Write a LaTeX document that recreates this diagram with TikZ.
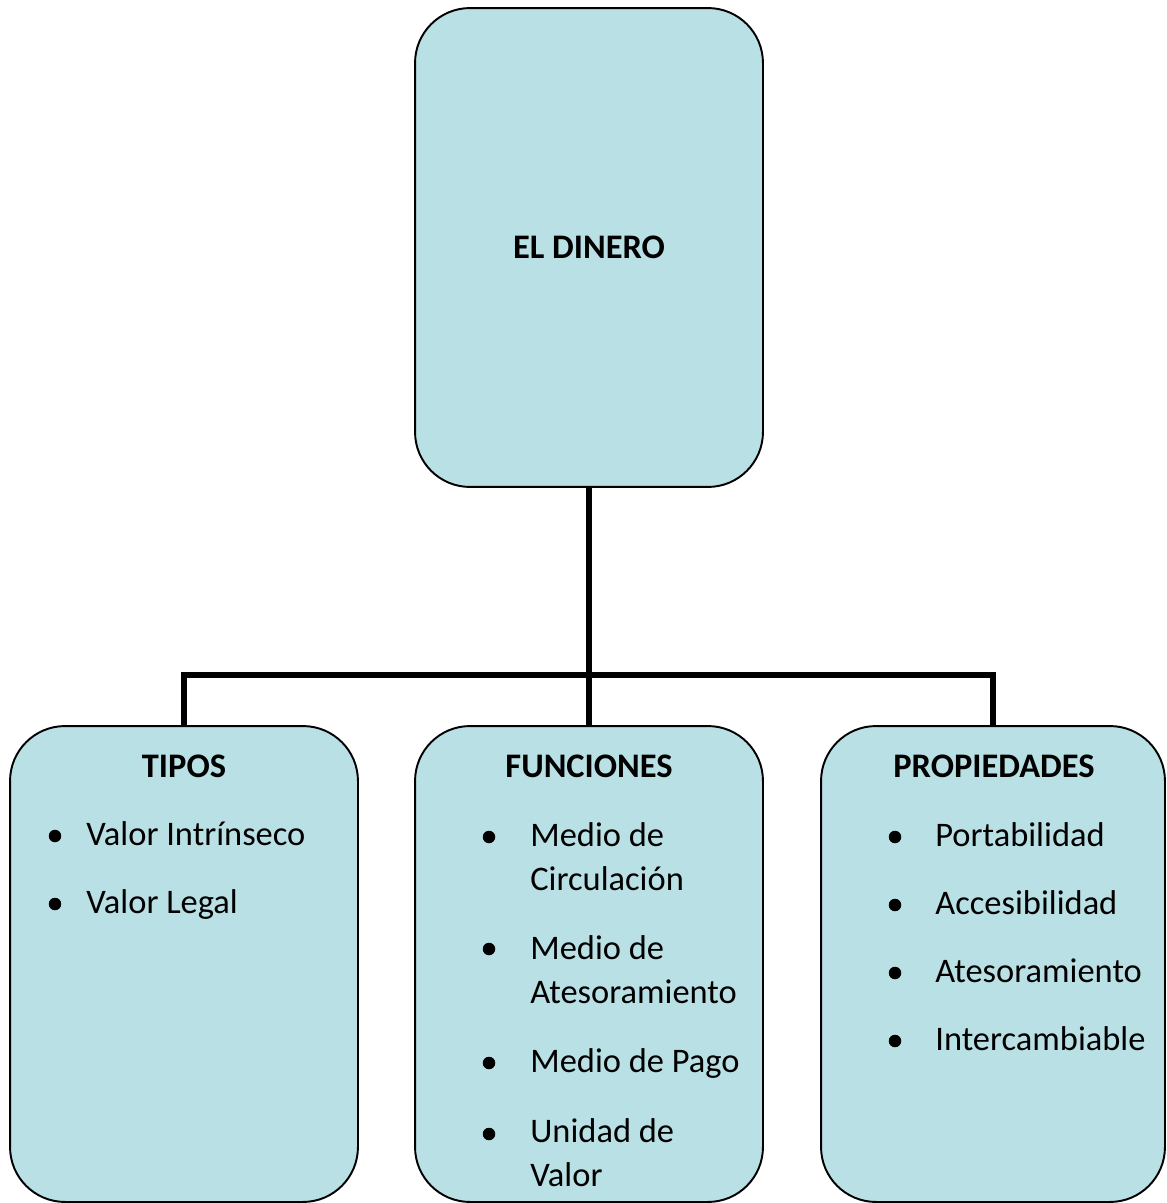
\documentclass[tikz,border=0pt]{standalone}
\usepackage{fontspec}
\setmainfont{Carlito}
\definecolor{cajafondo}{RGB}{185,224,228}
\tikzset{
  caja/.style={draw, line width=1.1pt, fill=cajafondo, rounded corners=1.1cm,
    minimum width=6.96cm, minimum height=9.52cm, inner sep=0pt},
  titulo/.style={anchor=base, inner sep=0pt, font=\bfseries\fontsize{19.6}{25}\selectfont},
  punto/.style={anchor=base west, inner sep=0pt, align=left,
    font=\fontsize{19.6}{25}\selectfont},
  vineta/.style={circle, fill=black, inner sep=0pt, minimum size=0.25cm}
}
\begin{document}
\begin{tikzpicture}[x=0.02cm, y=-0.02cm]
  \useasboundingbox (0,0) rectangle (1166,1203);
  % cajas
  \node[caja, minimum height=9.58cm] (dinero) at (589,247.5) {};
  \node[caja] (tipos) at (184,964) {};
  \node[caja] (funciones) at (589,964) {};
  \node[caja, minimum width=6.88cm] (propiedades) at (993,964) {};
  % titulos
  \node[titulo] (tDinero) at (589,258) {EL DINERO};
  \node[titulo] (tTipos) at (184,777) {TIPOS};
  \node[titulo] (tFunciones) at (589,777) {FUNCIONES};
  \node[titulo] (tPropiedades) at (994,777) {PROPIEDADES};
  % tipos
  \node[vineta] (vt1) at (55,836) {};
  \node[punto] (t1) at (86,845) {Valor Intrínseco};
  \node[vineta] (vt2) at (55,904) {};
  \node[punto] (t2) at (86,913) {Valor Legal};
  % funciones (base = ultima linea)
  \node[vineta] (vf1) at (489,837) {};
  \node[punto] (f1) at (530,890) {Medio de\\Circulación};
  \node[vineta] (vf2) at (489,949) {};
  \node[punto] (f2) at (530,1003) {Medio de\\Atesoramiento};
  \node[vineta] (vf3) at (489,1063) {};
  \node[punto] (f3) at (530,1072) {Medio de Pago};
  \node[vineta] (vf4) at (489,1134) {};
  \node[punto] (f4) at (530,1186) {Unidad de\\Valor};
  % propiedades
  \node[vineta] (vp1) at (895,837) {};
  \node[punto] (p1) at (935,846) {Portabilidad};
  \node[vineta] (vp2) at (895,905) {};
  \node[punto] (p2) at (935,914) {Accesibilidad};
  \node[vineta] (vp3) at (895,973) {};
  \node[punto] (p3) at (935,982) {Atesoramiento};
  \node[vineta] (vp4) at (895,1041) {};
  \node[punto] (p4) at (935,1050) {Intercambiable};
  % conectores
  \coordinate (bus) at (589,675);
  \begin{scope}[line width=3.2pt]
    \draw (dinero.south) -- (bus);
    \draw (tipos.north) |- (bus) -| (propiedades.north);
    \draw (bus) -- (funciones.north);
  \end{scope}
\end{tikzpicture}
\end{document}
